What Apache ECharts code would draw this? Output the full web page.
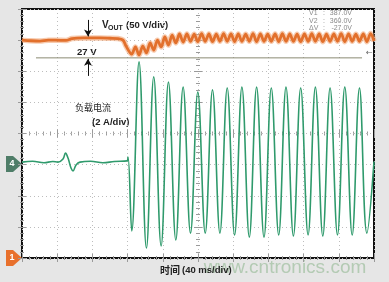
<!DOCTYPE html>
<html>
<head>
<meta charset="utf-8">
<script src="https://cdn.jsdelivr.net/npm/echarts@6/dist/echarts.min.js"></script>
<style>
html,body{margin:0;padding:0;background:#e6e6e6;}
#c{width:389px;height:282px;}
</style>
</head>
<body>
<div id="c"></div>
<script>
// Time axis in ms (40 ms/div, 10 div), vertical in divisions (8 div)
const timeTicks = [0, 40, 80, 120, 160, 200, 240, 280, 320, 360, 400];
const divTicks = [0, 1, 2, 3, 4, 5, 6, 7, 8];

// VOUT trace (orange), value in divisions (50 V/div)
const vOutTime = [0, 10, 20.5, 30, 37.5, 50, 56.8, 70, 88.6, 100, 109.1, 114.8, 118.2,
  124.7, 128.9, 133.0, 137.2, 141.4, 145.6, 149.7, 153.9, 158.1, 162.3, 166.4, 170.6, 174.8, 179.0, 183.1,
  187.4, 191.5, 195.7, 199.8, 204.1, 208.2, 212.4, 216.5, 220.8, 224.9, 229.1, 233.2, 237.5, 241.6,
  245.8, 249.9, 254.2, 258.3, 262.5, 266.6, 270.9, 275.0, 279.2, 283.3, 287.6, 291.7, 295.9, 300.0,
  304.3, 308.4, 312.6, 316.7, 321.0, 325.1, 329.3, 333.4, 337.7, 341.8, 346.0, 350.1, 354.4, 358.5,
  362.7, 366.8, 371.1, 375.2, 379.4, 383.5, 387.8, 391.9, 396.1, 400];
const vOutDiv = [7.00, 6.98, 6.97, 7.00, 7.00, 6.99, 7.05, 7.07, 7.07, 7.06, 7.05, 7.00, 6.81,
  6.55, 6.78, 6.52, 6.81, 6.59, 6.91, 6.68, 7.00, 6.78, 7.10, 6.84, 7.16, 6.91, 7.20, 6.94,
  7.20, 6.96, 7.19, 6.95, 7.21, 6.96, 7.20, 6.95, 7.19, 6.96, 7.21, 6.96, 7.20, 6.95,
  7.20, 6.96, 7.19, 6.96, 7.21, 6.95, 7.20, 6.96, 7.19, 6.96, 7.20, 6.95, 7.21, 6.96,
  7.20, 6.96, 7.19, 6.95, 7.20, 6.96, 7.21, 6.96, 7.20, 6.95, 7.19, 6.96, 7.20, 6.96,
  7.21, 6.95, 7.20, 6.96, 7.19, 6.96, 7.20, 6.95, 7.21, 6.97];

// Load current trace (green), value in divisions (2 A/div)
const loadTime = [0, 12, 25, 35, 40.9, 46.6, 49.4, 52.3, 55.7, 58.0, 61.4, 65.9, 78, 92, 105, 119.3, 120.5,
  124.7, 133.0, 141.4, 149.7, 158.1, 166.4, 174.8, 183.1, 191.5, 199.8, 208.2, 216.5, 224.9, 233.2,
  241.6, 249.9, 258.3, 266.6, 275.0, 283.3, 291.7, 300.0, 308.4, 316.7, 325.1, 333.4, 341.8, 350.1,
  358.5, 366.8, 375.2, 383.5, 391.9, 400];
const loadDiv = [3.08, 3.11, 3.06, 3.10, 3.08, 3.18, 3.37, 3.21, 2.89, 2.80, 2.99, 3.08, 3.11, 3.06, 3.10, 3.12, 3.24,
  0.87, 6.30, 0.32, 5.82, 0.39, 5.65, 0.58, 5.49, 0.80, 5.33, 0.80, 5.40, 0.80, 5.46,
  0.74, 5.49, 0.67, 5.49, 0.67, 5.46, 0.74, 5.49, 0.71, 5.46, 0.74, 5.49, 0.71, 5.46,
  0.74, 5.49, 0.74, 5.46, 0.80, 3.10];

// Cursor reference line and 27 V arrows
const cursorTime = [15.9, 386.4];
const cursorDiv = [6.43, 6.43];
const arrowTime = 75.0;
const arrowDown = [7.65, 7.12];
const arrowUp = [5.85, 6.40];

const zip = (a, b) => a.map((v, i) => [v, b[i]]);

const chart = echarts.init(document.getElementById('c'), null, {renderer: 'canvas'});

const tickCol = '#9a9a9a';
function xAx(extra) {
  return Object.assign({
    type: 'value', min: 0, max: 400, interval: 40,
    axisLine: {show: false},
    axisLabel: {show: false},
    axisTick: {show: true, inside: true, length: 4, lineStyle: {color: tickCol}},
    minorTick: {show: true, splitNumber: 5, length: 2, lineStyle: {color: tickCol}},
    splitLine: {show: false}
  }, extra);
}
function yAx(extra) {
  return Object.assign({
    type: 'value', min: 0, max: 8, interval: 1,
    axisLine: {show: false},
    axisLabel: {show: false},
    axisTick: {show: true, inside: true, length: 4, lineStyle: {color: tickCol}},
    minorTick: {show: true, splitNumber: 5, length: 2, lineStyle: {color: tickCol}},
    splitLine: {show: false}
  }, extra);
}
const gridLine = {show: true, lineStyle: {color: '#bdbdbd', type: [1, 3], width: 1}};

const bold = (s) => 'bold ' + s + 'px "Liberation Sans", Arial, sans-serif';
const cjk = (s, w) => (w || 'normal') + ' ' + s + 'px "Noto Sans CJK SC", sans-serif';

chart.setOption({
  animation: false,
  backgroundColor: '#e6e6e6',
  grid: {left: 22, top: 9, width: 352, height: 249, show: true, backgroundColor: '#ffffff',
    borderColor: '#111111', borderWidth: 2, outerBoundsMode: 'none', containLabel: false},
  xAxis: [
    xAx({position: 'bottom', splitLine: gridLine}),
    xAx({position: 'top'}),
    xAx({position: 'bottom', offset: -124.5}),
    xAx({position: 'bottom', offset: -124.5, axisTick: {show: true, inside: false, length: 4, lineStyle: {color: tickCol}}})
  ],
  yAxis: [
    yAx({position: 'left', splitLine: gridLine}),
    yAx({position: 'right'}),
    yAx({position: 'left', offset: -176}),
    yAx({position: 'left', offset: -176, axisTick: {show: true, inside: false, length: 4, lineStyle: {color: tickCol}}})
  ],
  series: [
    {
      type: 'line', name: 'cursor', data: zip(cursorTime, cursorDiv), symbol: 'none',
      lineStyle: {color: '#8a8a72', width: 1}, silent: true,
      markLine: {
        silent: true, symbol: ['none', 'arrow'], symbolSize: [6, 7],
        lineStyle: {color: '#111', width: 1, type: 'solid'}, label: {show: false},
        data: [
          [{coord: [arrowTime, arrowDown[0]]}, {coord: [arrowTime, arrowDown[1]]}],
          [{coord: [arrowTime, arrowUp[0]]}, {coord: [arrowTime, arrowUp[1]]}]
        ]
      }
    },
    {
      type: 'line', name: 'VOUT glow', data: zip(vOutTime, vOutDiv), symbol: 'none', smooth: 0.3,
      lineStyle: {color: 'rgba(240,160,110,0.55)', width: 5.5}
    },
    {
      type: 'line', name: 'VOUT', data: zip(vOutTime, vOutDiv), symbol: 'none', smooth: 0.3,
      lineStyle: {color: '#e2702c', width: 2.8}
    },
    {
      type: 'line', name: '负载电流', data: zip(loadTime, loadDiv), symbol: 'none', smooth: 0.4,
      lineStyle: {color: '#2f9a6c', width: 1.6}
    }
  ],
  graphic: [
    {type: 'text', x: 102, y: 25, style: {text: 'V', font: bold(10), fill: '#222', align: 'left', verticalAlign: 'middle'}},
    {type: 'text', x: 108, y: 28, style: {text: 'OUT', font: bold(7), fill: '#222', align: 'left', verticalAlign: 'middle'}},
    {type: 'text', x: 126, y: 25, style: {text: '(50 V/div)', font: bold(9.5), fill: '#222', align: 'left', verticalAlign: 'middle'}},
    {type: 'text', x: 77, y: 52, style: {text: '27 V', font: bold(9.5), fill: '#222', align: 'left', verticalAlign: 'middle'}},
    {type: 'text', x: 75, y: 108, style: {text: '负载电流', font: cjk(9), fill: '#222', align: 'left', verticalAlign: 'middle'}},
    {type: 'text', x: 92, y: 122, style: {text: '(2 A/div)', font: bold(9.5), fill: '#222', align: 'left', verticalAlign: 'middle'}},
    {type: 'text', x: 285, y: 268, style: {text: 'www.cntronics.com', font: '19px "Liberation Sans", Arial, sans-serif', fill: 'rgba(130,175,130,0.5)', align: 'center', verticalAlign: 'middle'}},
    {type: 'text', x: 160, y: 270, style: {text: '时间', font: cjk(10, 'bold'), fill: '#222', align: 'left', verticalAlign: 'middle'}},
    {type: 'text', x: 182, y: 270, style: {text: '(40 ms/div)', font: bold(9.5), fill: '#222', align: 'left', verticalAlign: 'middle'}},
    {type: 'text', x: 309, y: 13, style: {text: 'V1', font: '7px "Liberation Sans", sans-serif', fill: '#8a8a8a', verticalAlign: 'middle'}},
    {type: 'text', x: 309, y: 21, style: {text: 'V2', font: '7px "Liberation Sans", sans-serif', fill: '#8a8a8a', verticalAlign: 'middle'}},
    {type: 'text', x: 309, y: 28, style: {text: 'ΔV', font: '7px "Liberation Sans", sans-serif', fill: '#8a8a8a', verticalAlign: 'middle'}},
    {type: 'text', x: 323, y: 13, style: {text: ':', font: '7px "Liberation Sans", sans-serif', fill: '#8a8a8a', verticalAlign: 'middle'}},
    {type: 'text', x: 323, y: 21, style: {text: ':', font: '7px "Liberation Sans", sans-serif', fill: '#8a8a8a', verticalAlign: 'middle'}},
    {type: 'text', x: 323, y: 28, style: {text: ':', font: '7px "Liberation Sans", sans-serif', fill: '#8a8a8a', verticalAlign: 'middle'}},
    {type: 'text', x: 352, y: 13, style: {text: '387.0V', font: '7px "Liberation Sans", sans-serif', fill: '#8a8a8a', align: 'right', verticalAlign: 'middle'}},
    {type: 'text', x: 352, y: 21, style: {text: '360.0V', font: '7px "Liberation Sans", sans-serif', fill: '#8a8a8a', align: 'right', verticalAlign: 'middle'}},
    {type: 'text', x: 352, y: 28, style: {text: '-27.0V', font: '7px "Liberation Sans", sans-serif', fill: '#8a8a8a', align: 'right', verticalAlign: 'middle'}},
    {type: 'text', x: 366, y: 53, style: {text: '←', font: '8px "DejaVu Sans", sans-serif', fill: '#666', align: 'left', verticalAlign: 'middle'}},
    {type: 'polygon', shape: {points: [[6, 156], [13, 156], [22, 164], [13, 172], [6, 172]]}, style: {fill: '#4f7d68'}},
    {type: 'text', x: 12, y: 164, style: {text: '4', font: bold(9), fill: '#fff', align: 'center', verticalAlign: 'middle'}},
    {type: 'polygon', shape: {points: [[6, 250], [13, 250], [22, 258], [13, 266], [6, 266]]}, style: {fill: '#e8702c'}},
    {type: 'text', x: 12, y: 258, style: {text: '1', font: bold(9), fill: '#fff', align: 'center', verticalAlign: 'middle'}}
  ]
});
</script>
</body>
</html>
